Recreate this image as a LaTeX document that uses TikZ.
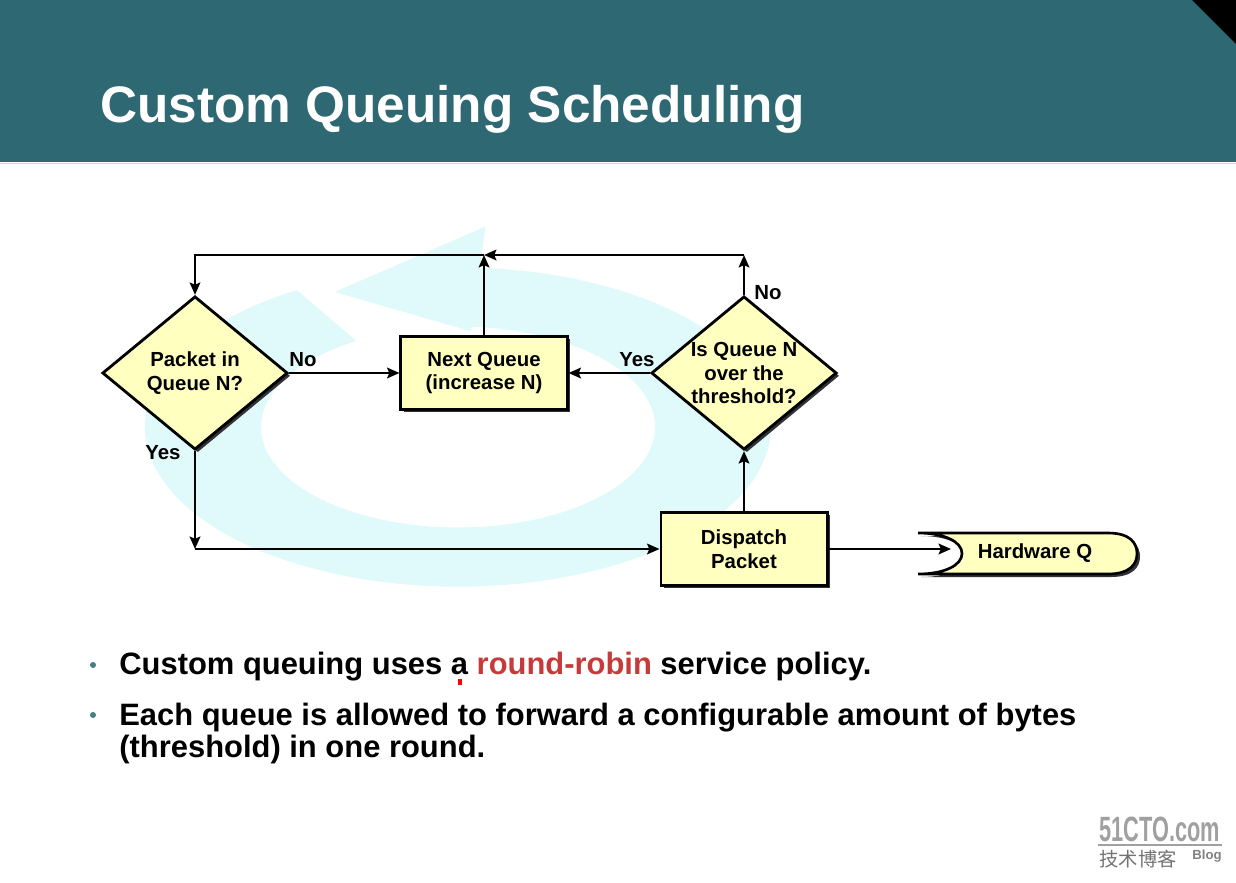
\documentclass[tikz,border=0pt]{standalone}
\usepackage{fontspec}
\setmainfont{Liberation Sans}
\newfontfamily\cjkfont{Noto Sans CJK SC}
\usetikzlibrary{shapes.geometric,arrows.meta,shadows}

\definecolor{bandteal}{RGB}{46,104,114}
\definecolor{flowyellow}{RGB}{255,255,192}
\definecolor{ringcyan}{RGB}{224,249,250}
\definecolor{robinred}{RGB}{200,58,58}
\definecolor{dotteal}{RGB}{70,125,135}
\definecolor{markgray}{RGB}{160,160,160}

\tikzset{
  flowfont/.style={font=\fontsize{11.6}{13.6}\selectfont\bfseries},
  decide/.style={diamond,aspect=1.21,draw,line width=1.6pt,fill=flowyellow,inner sep=-1pt,
    minimum width=105.5pt,minimum height=87.3pt,align=center,flowfont,
    drop shadow={shadow xshift=1.6pt,shadow yshift=-1.6pt,fill=black!80,opacity=1}},
  stepbox/.style={rectangle,draw,line width=1.5pt,fill=flowyellow,inner sep=0pt,
    minimum width=94.7pt,minimum height=41.6pt,align=center,flowfont,
    drop shadow={shadow xshift=1.6pt,shadow yshift=-1.6pt,fill=black!80,opacity=1}},
  flow/.style={line width=1.5pt,-{Stealth[length=7pt,width=6pt,inset=1.2pt]}},
  answer/.style={flowfont,inner sep=0pt},
  bullettext/.style={font=\fontsize{17.6}{18}\selectfont\bfseries,inner sep=0pt,anchor=base west},
}

\begin{document}
\begin{tikzpicture}[x=0.02cm,y=-0.02cm]
\useasboundingbox (0,0) rectangle (1236,882);

% header
\fill[bandteal] (0,0) rectangle (1236,162);
\fill[black] (1192,0) -- (1236,0) -- (1236,44) -- cycle;
\draw[bandteal!25,line width=0.6pt] (0,163.5) -- (1236,163.5);
\node[font=\fontsize{29.2}{33}\selectfont\bfseries,text=white,inner sep=0pt,anchor=base west]
  (title) at (100,122) {Custom Queuing Scheduling};

% round arrow in the background
\begin{scope}[shift={(458,427)},yscale=-0.51]
\fill[ringcyan] (121:313) arc[start angle=121,end angle=446,radius=313]
  -- (86:197) arc[start angle=446,end angle=121,radius=197] -- cycle;
\fill[ringcyan] (86:188) -- (86:394) -- (115:292) -- cycle;
\end{scope}

% flow chart
\node[decide] (pktq) at (195,373) {Packet in\\Queue N?};
\node[stepbox] (nextq) at (484,373) {Next Queue\\(increase N)};
\node[decide] (overq) at (744,373) {Is Queue N\\over the\\threshold?};
\node[stepbox] (dispatch) at (744,549) {Dispatch\\Packet};

\coordinate (topl) at (195,255);
\coordinate (topm) at (484,255);
\coordinate (topr) at (744,255);
\coordinate (yesc) at (195,549);
\coordinate (hwin) at (951,549);

\draw[flow] (pktq.east) -- (nextq.west);
\draw[flow] (overq.west) -- (nextq.east);
\draw[flow] (overq.north) -- (topr);
\draw[flow] (topr) -- (topm);
\draw[flow] (nextq.north) -- (topm);
\draw[flow] (topm) -- (topl) -- (pktq.north);
\draw[flow] (pktq.south) -- (yesc);
\draw[flow] (yesc) -- (dispatch.west);
\draw[flow] (dispatch.north) -- (overq.south);
\draw[flow] (dispatch.east) -- (hwin);

\node[answer] (no1) at (303,360) {No};
\node[answer] (yes1) at (637,360) {Yes};
\node[answer] (no2) at (768,293) {No};
\node[answer] (yes2) at (163,453) {Yes};

% hardware queue
\fill[black!80] (921,536) -- (1111,536) .. controls (1133,536) and (1140,546) .. (1140,556.5)
  .. controls (1140,567) and (1133,577) .. (1111,577) -- (921,577)
  .. controls (948,577) and (965,568) .. (965,556.5) .. controls (965,545) and (948,536) .. (921,536) -- cycle;
\filldraw[fill=flowyellow,line width=1.5pt] (918,533) -- (1108,533) .. controls (1130,533) and (1137,543) .. (1137,553.5)
  .. controls (1137,564) and (1130,574) .. (1108,574) -- (918,574)
  .. controls (945,574) and (962,565) .. (962,553.5) .. controls (962,542) and (945,533) .. (918,533) -- cycle;
\node[answer] (hwq) at (1035,553) {Hardware Q};

% bullets
\fill[dotteal] (93,665) circle (3);
\fill[dotteal] (93,715) circle (3);
\node[bullettext] (pt1) at (119,674) {Custom queuing uses a \textcolor{robinred}{round-robin} service policy.};
\fill[red] (458,679) rectangle (462,685);
\node[bullettext] (pt2) at (119,725) {Each queue is allowed to forward a configurable amount of bytes};
\node[bullettext] (pt2b) at (119,757) {(threshold) in one round.};

% site mark
\node[font=\fontsize{20}{20}\selectfont\bfseries,text=markgray,inner sep=0pt,anchor=base]
  (cto) at (1160,841) {\scalebox{0.62}[1]{51CTO.com}};
\draw[markgray,line width=1.2pt] (1098,845) -- (1222,845);
\node[font=\fontsize{11}{11}\selectfont\cjkfont,text=black!55,inner sep=0pt] (cjk) at (1138,859) {技术博客};
\node[font=\fontsize{7.5}{8}\selectfont\bfseries,text=black!50,inner sep=0pt] (blog) at (1207,856) {Blog};

\end{tikzpicture}
\end{document}
